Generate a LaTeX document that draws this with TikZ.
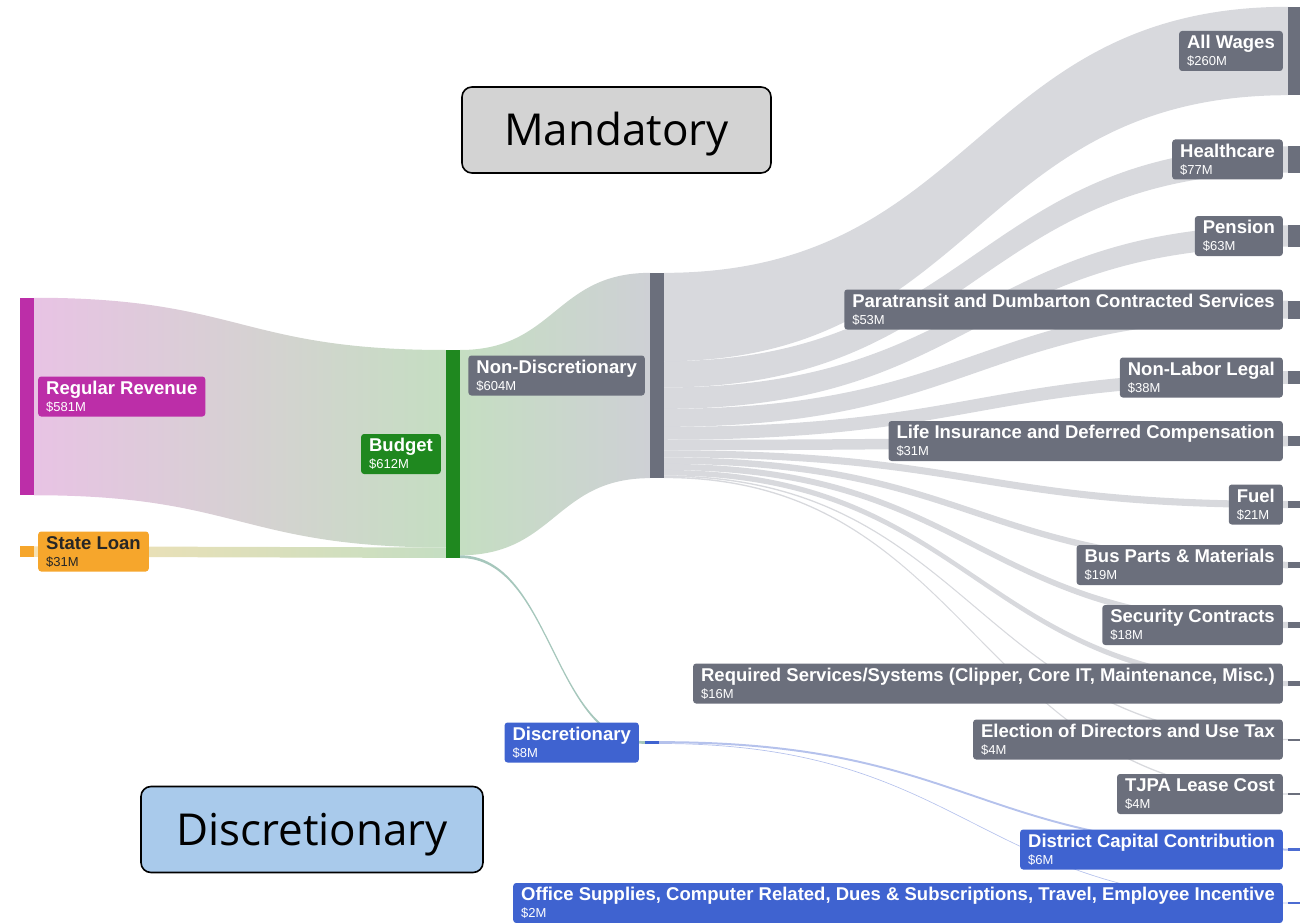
\documentclass[tikz,border=0pt]{standalone}
\usepackage{fontspec}
\setmainfont{Liberation Sans}
\newfontfamily\tagfont{Open Sans}
\usetikzlibrary{positioning, calc, backgrounds}

\definecolor{revenueMagenta}{HTML}{BC2EA8}
\definecolor{loanOrange}{HTML}{F6A62C}
\definecolor{budgetGreen}{HTML}{1F881F}
\definecolor{mandGray}{HTML}{6B6F7C}
\definecolor{discBlue}{HTML}{3F63D0}
\definecolor{barBlue}{HTML}{4C6CD2}
\definecolor{tagGray}{HTML}{D3D3D3}
\definecolor{tagBlue}{HTML}{A9CAEB}
\definecolor{revFlowPink}{HTML}{E8C3E4}
\definecolor{flowGreen}{HTML}{C5DEC2}
\definecolor{loanFlowTan}{HTML}{F6E1B3}
\definecolor{flowGray}{HTML}{CED0D5}
\definecolor{discFlowBlue}{HTML}{A8B7E9}
\definecolor{discLinkTeal}{HTML}{A6C7BC}

\tikzstyle{flowbar} = [rectangle, inner sep=0pt, outer sep=0pt, minimum width=14pt]
\tikzstyle{endbar} = [flowbar, minimum width=12pt, fill=mandGray]
\tikzstyle{flowlabel} = [rectangle, rounded corners=3pt, align=left, text=white, inner xsep=8pt, inner ysep=3pt, minimum height=40pt, font=\fontsize{18.5}{17}\selectfont\bfseries]
\tikzstyle{mandlabel} = [flowlabel, fill=mandGray]
\tikzstyle{disclabel} = [flowlabel, fill=discBlue]
\tikzstyle{tagbox} = [draw=black, line width=1.6pt, rounded corners=10pt, font=\tagfont\fontsize{44}{44}\selectfont, text height=31.5pt, text depth=0pt]
\tikzstyle{mandflow} = [fill=flowGray, fill opacity=0.8]
\tikzstyle{discflow} = [fill=discFlowBlue, fill opacity=0.85]

\newcommand{\amount}[1]{{\fontsize{13}{13}\selectfont\mdseries #1}}

\newcommand{\sankeyBand}[7]{
  \coordinate (sA) at ($(#2.north east)+(0,#3)$);
  \coordinate (sB) at ($(#2.north east)+(0,#4)$);
  \coordinate (tA) at ($(#5.north west)+(0,#6)$);
  \coordinate (tB) at ($(#5.north west)+(0,#7)$);
  \coordinate (mid) at ($(sA)!0.5!(tA)$);
  \path[#1] (sA) .. controls (mid |- sA) and (mid |- tA) .. (tA) -- (tB)
    .. controls (mid |- tB) and (mid |- sB) .. (sB) -- cycle;
}

\begin{document}
\begin{tikzpicture}[x=1pt, y=-1pt]
\useasboundingbox (0,0) rectangle (1307,923);

\node (revenueBar) [flowbar, fill=revenueMagenta, minimum height=197.5pt] at (27,396.5) {};
\node (loanBar) [flowbar, fill=loanOrange, minimum height=10.5pt] at (27,551.5) {};
\node (budgetBar) [flowbar, fill=budgetGreen, minimum height=208pt] at (453,454) {};
\node (nonDiscBar) [flowbar, fill=mandGray, minimum height=205.3pt] at (657,375.5) {};
\node (discBar) [flowbar, fill=discBlue, minimum height=3pt] at (652,742.5) {};

\node (wagesBar) [endbar, minimum height=88.4pt] at (1294,51) {};
\node (healthBar) [endbar, minimum height=26.2pt] at (1294,159.5) {};
\node (pensionBar) [endbar, minimum height=21.4pt] at (1294,236) {};
\node (paraBar) [endbar, minimum height=18pt] at (1294,309.5) {};
\node (legalBar) [endbar, minimum height=12.9pt] at (1294,377.5) {};
\node (lifeBar) [endbar, minimum height=10.5pt] at (1294,441) {};
\node (fuelBar) [endbar, minimum height=7.1pt] at (1294,504.5) {};
\node (partsBar) [endbar, minimum height=6.5pt] at (1294,565) {};
\node (securityBar) [endbar, minimum height=6.1pt] at (1294,625) {};
\node (requiredBar) [endbar, minimum height=5.4pt] at (1294,683.5) {};
\node (electionBar) [endbar, minimum height=2pt] at (1294,739.5) {};
\node (tjpaBar) [endbar, minimum height=2pt] at (1294,794) {};
\node (districtBar) [endbar, fill=barBlue, minimum height=2.5pt] at (1294,849.5) {};
\node (officeBar) [endbar, fill=barBlue, minimum height=2pt] at (1294,903) {};

\node (revenueLabel) [flowlabel, fill=revenueMagenta, right=4pt of revenueBar] {Regular Revenue\\\amount{\$581M}};
\node (loanLabel) [flowlabel, fill=loanOrange, text=black!85, right=4pt of loanBar] {State Loan\\\amount{\$31M}};
\node (budgetLabel) [flowlabel, fill=budgetGreen, left=5pt of budgetBar] {Budget\\\amount{\$612M}};
\node (nonDiscLabel) [mandlabel, left=5pt of nonDiscBar] {Non-Discretionary\\\amount{\$604M}};
\node (discLabel) [disclabel, left=6pt of discBar] {Discretionary\\\amount{\$8M}};

\node (wagesLabel) [mandlabel, left=5pt of wagesBar] {All Wages\\\amount{\$260M}};
\node (healthLabel) [mandlabel, left=5pt of healthBar] {Healthcare\\\amount{\$77M}};
\node (pensionLabel) [mandlabel, left=5pt of pensionBar] {Pension\\\amount{\$63M}};
\node (paraLabel) [mandlabel, left=5pt of paraBar] {Paratransit and Dumbarton Contracted Services\\\amount{\$53M}};
\node (legalLabel) [mandlabel, left=5pt of legalBar] {Non-Labor Legal\\\amount{\$38M}};
\node (lifeLabel) [mandlabel, left=5pt of lifeBar] {Life Insurance and Deferred Compensation\\\amount{\$31M}};
\node (fuelLabel) [mandlabel, left=5pt of fuelBar] {Fuel\\\amount{\$21M}};
\node (partsLabel) [mandlabel, left=5pt of partsBar] {Bus Parts \& Materials\\\amount{\$19M}};
\node (securityLabel) [mandlabel, left=5pt of securityBar] {Security Contracts\\\amount{\$18M}};
\node (requiredLabel) [mandlabel, left=5pt of requiredBar] {Required Services/Systems (Clipper, Core IT, Maintenance, Misc.)\\\amount{\$16M}};
\node (electionLabel) [mandlabel, left=5pt of electionBar] {Election of Directors and Use Tax\\\amount{\$4M}};
\node (tjpaLabel) [mandlabel, left=5pt of tjpaBar] {TJPA Lease Cost\\\amount{\$4M}};
\node (districtLabel) [disclabel, left=5pt of districtBar] {District Capital Contribution\\\amount{\$6M}};
\node (officeLabel) [disclabel, left=5pt of officeBar] {Office Supplies, Computer Related, Dues \& Subscriptions, Travel, Employee Incentive\\\amount{\$2M}};

\node (mandatoryTag) [tagbox, fill=tagGray, minimum width=309pt, minimum height=86pt] at (616.5,130) {Mandatory};
\node (discretionaryTag) [tagbox, fill=tagBlue, minimum width=342pt, minimum height=86pt] at (312,829.5) {Discretionary};

\begin{scope}[on background layer]
\sankeyBand{left color=revFlowPink, right color=flowGreen}{revenueBar}{0}{197.5}{budgetBar}{0}{197.5}
\sankeyBand{left color=loanFlowTan, right color=flowGreen}{loanBar}{0}{10.5}{budgetBar}{197.5}{208}
\sankeyBand{left color=flowGreen, right color=flowGray}{budgetBar}{0}{205.3}{nonDiscBar}{0}{205.3}
\sankeyBand{fill=discLinkTeal}{budgetBar}{205.3}{208}{discBar}{0.15}{2.85}

\sankeyBand{mandflow}{nonDiscBar}{0}{88.4}{wagesBar}{0}{88.4}
\sankeyBand{mandflow}{nonDiscBar}{88.4}{114.6}{healthBar}{0}{26.2}
\sankeyBand{mandflow}{nonDiscBar}{114.6}{136}{pensionBar}{0}{21.4}
\sankeyBand{mandflow}{nonDiscBar}{136}{154}{paraBar}{0}{18}
\sankeyBand{mandflow}{nonDiscBar}{154}{166.9}{legalBar}{0}{12.9}
\sankeyBand{mandflow}{nonDiscBar}{166.9}{177.4}{lifeBar}{0}{10.5}
\sankeyBand{mandflow}{nonDiscBar}{177.4}{184.5}{fuelBar}{0}{7.1}
\sankeyBand{mandflow}{nonDiscBar}{184.5}{191}{partsBar}{0}{6.5}
\sankeyBand{mandflow}{nonDiscBar}{191}{197.1}{securityBar}{0}{6.1}
\sankeyBand{mandflow}{nonDiscBar}{197.1}{202.5}{requiredBar}{0}{5.4}
\sankeyBand{mandflow}{nonDiscBar}{202.5}{203.9}{electionBar}{0.3}{1.7}
\sankeyBand{mandflow}{nonDiscBar}{203.9}{205.3}{tjpaBar}{0.3}{1.7}

\sankeyBand{discflow}{discBar}{0.15}{2.15}{districtBar}{0.25}{2.25}
\sankeyBand{discflow}{discBar}{2.15}{2.85}{officeBar}{0.65}{1.35}
\end{scope}
\end{tikzpicture}
\end{document}
